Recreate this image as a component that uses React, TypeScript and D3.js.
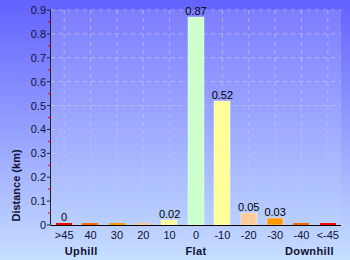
import React from "react";
import * as d3 from "d3";

const categories = [">45", "40", "30", "20", "10", "0", "-10", "-20", "-30", "-40", "<-45"];
const values = [0.004, 0.003, 0.003, 0.002, 0.02, 0.87, 0.52, 0.05, 0.03, 0.003, 0.004];
const valueLabels = ["0", "", "", "", "0.02", "0.87", "0.52", "0.05", "0.03", "", ""];
const barColors = ["#ff0000", "#ff6600", "#ff9900", "#ffcc99", "#ffff99", "#ccffcc", "#ffff99", "#ffcc99", "#ff9900", "#ff6600", "#ff0000"];
const yTicks = [0, 0.1, 0.2, 0.3, 0.4, 0.5, 0.6, 0.7, 0.8, 0.9];
const groupLabels = [
  { text: "Uphill", cat: ">45", dx: 17 },
  { text: "Flat", cat: "0", dx: 0 },
  { text: "Downhill", cat: "-40", dx: 8 },
];

export default function App() {
  const W = 350, H = 260;
  const left = 51, right = 341, top = 10, bottom = 225;
  const x = d3.scaleBand().domain(categories).range([left, right]).paddingInner(0.38).paddingOuter(0.19);
  const xc = d3.scalePoint().domain(categories).range([left, right]).padding(0.5);
  const y = d3.scaleLinear().domain([0, 0.9]).range([bottom, top]);
  const minor = d3.range(0.05, 0.9, 0.1);
  const font = "'Liberation Sans', Arial, sans-serif";
  return (
    <svg width={W} height={H} style={{ position: "absolute", left: 0, top: 0 }}>
      <defs>
        <linearGradient id="bg" x1="0" y1="0" x2="0" y2="1">
          <stop offset="0" stopColor="#6262ff" />
          <stop offset="1" stopColor="#c6deff" />
        </linearGradient>
        <linearGradient id="plot" x1="0" y1="0" x2="0" y2="1">
          <stop offset="0" stopColor="#7d7dff" />
          <stop offset="1" stopColor="#b9d0ff" />
        </linearGradient>
      </defs>
      <rect x={0} y={0} width={W} height={H} fill="url(#bg)" />
      <rect x={left} y={top} width={right - left} height={bottom - top} fill="url(#plot)" />
      {yTicks.slice(1).map((t) => (
        <line key={"h" + t} x1={left} x2={right} y1={y(t)} y2={y(t)} stroke="#c4c4ff" strokeOpacity={0.7} strokeDasharray="4,4" />
      ))}
      {categories.map((c) => (
        <line key={"v" + c} x1={xc(c)} x2={xc(c)} y1={top} y2={bottom} stroke="#c4c4ff" strokeOpacity={0.7} strokeDasharray="4,4" />
      ))}
      {categories.map((c, i) => {
        const bw = x.bandwidth();
        const bx = Math.round((xc(c) as number) - bw / 2);
        const yt = Math.min(Math.round(y(values[i])), bottom - 2);
        const tall = bottom - yt > 4;
        return (
          <g key={"b" + c}>
            <rect x={bx} y={yt} width={Math.round(bw)} height={bottom - yt} fill={barColors[i]} stroke={tall ? "#ffffff" : "none"} strokeOpacity={0.5} strokeWidth={0.8} />
            {valueLabels[i] && (
              <text x={xc(c)} y={yt - 2} textAnchor="middle" fontSize={11} fontFamily={font} fill="#000">{valueLabels[i]}</text>
            )}
          </g>
        );
      })}
      <line x1={left} x2={right} y1={bottom + 0.5} y2={bottom + 0.5} stroke="#000" />
      <line x1={left - 0.5} x2={left - 0.5} y1={top} y2={bottom} stroke="#222" />
      {yTicks.map((t) => (
        <g key={"t" + t}>
          <line x1={left - 4} x2={left} y1={y(t)} y2={y(t)} stroke="#222" />
          <text x={left - 5} y={y(t) + 4} textAnchor="end" fontSize={11} fontFamily={font} fill="#111133">{t === 0 ? "0" : String(t)}</text>
        </g>
      ))}
      {minor.map((t) => (
        <line key={"m" + t} x1={left - 3} x2={left} y1={y(t)} y2={y(t)} stroke="#dd0000" />
      ))}
      {categories.map((c) => (
        <text key={"xl" + c} x={xc(c)} y={bottom + 14} textAnchor="middle" fontSize={11} fontFamily={font} fill="#111133">{c}</text>
      ))}
      {groupLabels.map((g) => (
        <text key={g.text} x={(xc(g.cat) as number) + g.dx} y={bottom + 30} textAnchor="middle" fontSize={11} fontWeight="bold" letterSpacing={0.4} fontFamily={font} fill="#111133">{g.text}</text>
      ))}
      <text transform={`translate(20,${(top + bottom) / 2 + 68}) rotate(-90)`} textAnchor="middle" fontSize={11} fontWeight="bold" fontFamily={font} fill="#111133">Distance (km)</text>
    </svg>
  );
}
